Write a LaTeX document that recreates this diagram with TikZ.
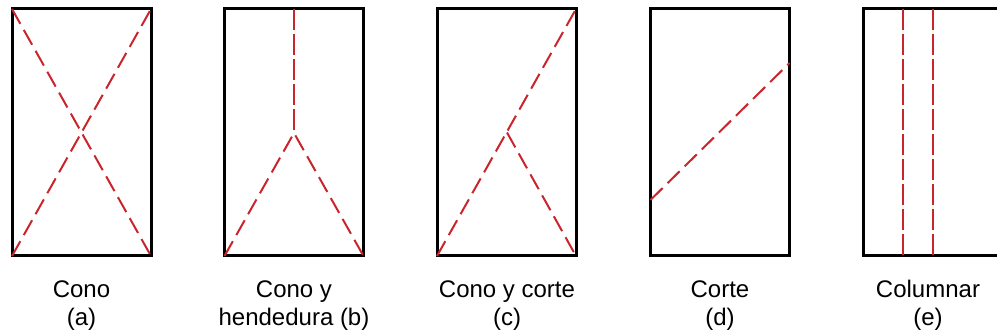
\documentclass[tikz,border=0pt]{standalone}
\usepackage{fontspec}
\setmainfont{Liberation Sans}
\usetikzlibrary{positioning}
\definecolor{cRed}{HTML}{C9252C}

\begin{document}
\begin{tikzpicture}[
 x=1pt,y=1pt,font=\fontsize{24}{28.5}\selectfont,
 box/.style={draw=black,line width=3pt},
 crack/.style={draw=cRed,line width=2pt,dash pattern=on 17pt off 7pt},
 split/.style={draw=cRed,line width=2pt,dash pattern=on 21pt off 4pt},
 lab/.style={align=center,inner sep=0pt}]
\path[use as bounding box] (0,0) rectangle (997,335);

% corners of the five specimens
\foreach \nm/\xx in {a/12,b/224.5,c/437,d/650.5,e/863} {
  \coordinate (\nm-sw) at (\xx,79);
  \coordinate (\nm-nw) at (\xx,326);
  \coordinate (\nm-se) at (\xx+139,79);
  \coordinate (\nm-ne) at (\xx+139,326);
}
\foreach \nm in {a,b,c,d}
  \draw[box] (\nm-sw) rectangle (\nm-ne);
\begin{scope}
  \clip (0,0) rectangle (997,335);
  \draw[box] (e-sw) rectangle (e-ne);
\end{scope}

% (a) cone
\draw[crack] (a-sw)--(a-ne);
\draw[crack] (a-nw)--(a-se);

% (b) cone and split
\coordinate (b-j) at (294,202);
\coordinate (b-n) at (294,326);
\draw[crack] (b-sw)--(b-j)--(b-se);
\draw[split] (b-n)--(b-j);

% (c) cone and shear
\coordinate (c-j) at (507,202.5);
\draw[crack] (c-sw)--(c-ne);
\draw[crack] (c-j)--(c-se);

% (d) shear
\coordinate (d-l) at (650.5,135);
\coordinate (d-r) at (789.5,272);
\draw[crack] (d-l)--(d-r);

% (e) columnar
\foreach \xx in {903,933}
  \draw[split] (\xx,326)--(\xx,79);

% captions
\node[lab] (la) at (81.5,29.5) {Cono\\(a)};
\node[lab] (lb) at (294,29.5) {Cono y\\hendedura (b)};
\node[lab] (lc) at (507,29.5) {Cono y corte\\(c)};
\node[lab] (ld) at (720,29.5) {Corte\\(d)};
\node[lab] (le) at (928,29.5) {Columnar\\(e)};
\end{tikzpicture}
\end{document}
